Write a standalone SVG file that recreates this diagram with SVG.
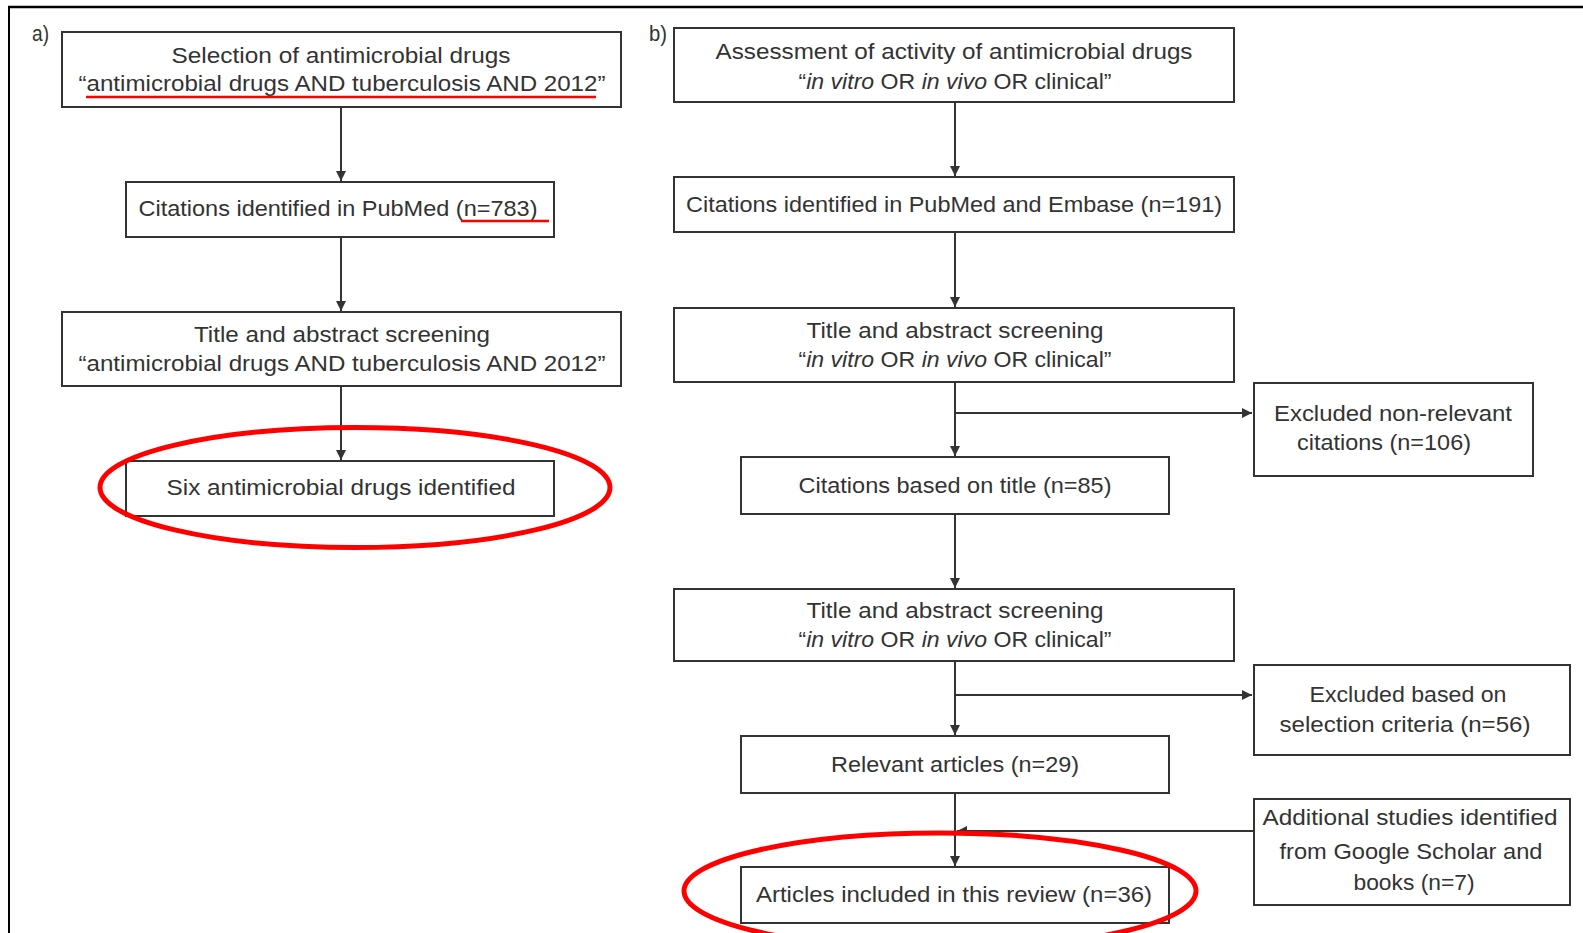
<svg xmlns="http://www.w3.org/2000/svg" width="1583" height="933" viewBox="0 0 1583 933">
<style>
.box{fill:#fff;stroke:#333;stroke-width:2}
.t{font-family:"Liberation Sans",Arial,sans-serif;font-size:22px;fill:#333;text-anchor:middle}
.i{font-style:italic}
.c{stroke:#333;stroke-width:2;fill:none}
.red{fill:none;stroke:#f00;stroke-width:5}
.ul{stroke:#f00;stroke-width:2.5}
.lbl{font-family:"Liberation Sans",Arial,sans-serif;font-size:22px;fill:#333}
</style>
<defs>
<marker id="ah" markerWidth="10" markerHeight="10" refX="10" refY="5" orient="auto" markerUnits="userSpaceOnUse">
<path d="M0,0 L10,5 L0,10 z" fill="#333"/>
</marker>
</defs>
<rect x="0" y="0" width="1583" height="933" fill="#fff"/>
<line x1="8" y1="7" x2="1583" y2="7" stroke="#000" stroke-width="2.5"/>
<line x1="9" y1="6" x2="9" y2="933" stroke="#000" stroke-width="2"/>

<text class="lbl" x="32" y="41" textLength="17" lengthAdjust="spacingAndGlyphs">a)</text>
<text class="lbl" x="649" y="41" textLength="18" lengthAdjust="spacingAndGlyphs">b)</text>

<g id="connectors">
<line class="c" x1="341" y1="107" x2="341" y2="181" marker-end="url(#ah)"/>
<line class="c" x1="341" y1="237" x2="341" y2="311" marker-end="url(#ah)"/>
<line class="c" x1="341" y1="386" x2="341" y2="460" marker-end="url(#ah)"/>
<line class="c" x1="955" y1="102" x2="955" y2="176" marker-end="url(#ah)"/>
<line class="c" x1="955" y1="232" x2="955" y2="307" marker-end="url(#ah)"/>
<line class="c" x1="955" y1="382" x2="955" y2="456" marker-end="url(#ah)"/>
<line class="c" x1="955" y1="413" x2="1252" y2="413" marker-end="url(#ah)"/>
<line class="c" x1="955" y1="514" x2="955" y2="588" marker-end="url(#ah)"/>
<line class="c" x1="955" y1="661" x2="955" y2="735" marker-end="url(#ah)"/>
<line class="c" x1="955" y1="695" x2="1252" y2="695" marker-end="url(#ah)"/>
<line class="c" x1="955" y1="793" x2="955" y2="866" marker-end="url(#ah)"/>
<line class="c" x1="1254" y1="831" x2="957" y2="831" marker-end="url(#ah)"/>
</g>

<g id="a1">
<rect class="box" x="62" y="32" width="559" height="75"/>
<text class="t" x="341" y="63" textLength="339" lengthAdjust="spacingAndGlyphs">Selection of antimicrobial drugs</text>
<text class="t" x="342" y="91" textLength="527" lengthAdjust="spacingAndGlyphs">“antimicrobial drugs AND tuberculosis AND 2012”</text>
<line class="ul" x1="86" y1="97" x2="596" y2="97"/>
</g>
<g id="a2">
<rect class="box" x="126" y="182" width="428" height="55"/>
<text class="t" x="338" y="216" textLength="399" lengthAdjust="spacingAndGlyphs">Citations identified in PubMed (n=783)</text>
<line class="ul" x1="461" y1="221" x2="549" y2="221"/>
</g>
<g id="a3">
<rect class="box" x="62" y="312" width="559" height="74"/>
<text class="t" x="342" y="342" textLength="296" lengthAdjust="spacingAndGlyphs">Title and abstract screening</text>
<text class="t" x="342" y="371" textLength="527" lengthAdjust="spacingAndGlyphs">“antimicrobial drugs AND tuberculosis AND 2012”</text>
</g>
<g id="a4">
<rect class="box" x="126" y="461" width="428" height="55"/>
<text class="t" x="341" y="495" textLength="349" lengthAdjust="spacingAndGlyphs">Six antimicrobial drugs identified</text>
</g>
<ellipse class="red" cx="355" cy="487.5" rx="255" ry="60"/>

<g id="b1">
<rect class="box" x="674" y="28" width="560" height="74"/>
<text class="t" x="954" y="59" textLength="477" lengthAdjust="spacingAndGlyphs">Assessment of activity of antimicrobial drugs</text>
<text class="t" x="955" y="88.5" textLength="313" lengthAdjust="spacingAndGlyphs">“<tspan class="i">in vitro</tspan> OR <tspan class="i">in vivo</tspan> OR clinical”</text>
</g>
<g id="b2">
<rect class="box" x="674" y="177" width="560" height="55"/>
<text class="t" x="954" y="211.5" textLength="536" lengthAdjust="spacingAndGlyphs">Citations identified in PubMed and Embase (n=191)</text>
</g>
<g id="b3">
<rect class="box" x="674" y="308" width="560" height="74"/>
<text class="t" x="955" y="337.5" textLength="297" lengthAdjust="spacingAndGlyphs">Title and abstract screening</text>
<text class="t" x="955" y="367" textLength="313" lengthAdjust="spacingAndGlyphs">“<tspan class="i">in vitro</tspan> OR <tspan class="i">in vivo</tspan> OR clinical”</text>
</g>
<g id="b4">
<rect class="box" x="1254" y="383" width="279" height="93"/>
<text class="t" x="1393" y="420.5" textLength="238" lengthAdjust="spacingAndGlyphs">Excluded non-relevant</text>
<text class="t" x="1384" y="449.5" textLength="174" lengthAdjust="spacingAndGlyphs">citations (n=106)</text>
</g>
<g id="b5">
<rect class="box" x="741" y="457" width="428" height="57"/>
<text class="t" x="955" y="493" textLength="313" lengthAdjust="spacingAndGlyphs">Citations based on title (n=85)</text>
</g>
<g id="b6">
<rect class="box" x="674" y="589" width="560" height="72"/>
<text class="t" x="955" y="617.5" textLength="297" lengthAdjust="spacingAndGlyphs">Title and abstract screening</text>
<text class="t" x="955" y="646.5" textLength="313" lengthAdjust="spacingAndGlyphs">“<tspan class="i">in vitro</tspan> OR <tspan class="i">in vivo</tspan> OR clinical”</text>
</g>
<g id="b7">
<rect class="box" x="1254" y="665" width="316" height="90"/>
<text class="t" x="1408" y="702" textLength="197" lengthAdjust="spacingAndGlyphs">Excluded based on</text>
<text class="t" x="1405" y="731.5" textLength="251" lengthAdjust="spacingAndGlyphs">selection criteria (n=56)</text>
</g>
<g id="b8">
<rect class="box" x="741" y="736" width="428" height="57"/>
<text class="t" x="955" y="772" textLength="248" lengthAdjust="spacingAndGlyphs">Relevant articles (n=29)</text>
</g>
<g id="b9">
<rect class="box" x="1254" y="799" width="316" height="106"/>
<text class="t" x="1410" y="825" textLength="295" lengthAdjust="spacingAndGlyphs">Additional studies identified</text>
<text class="t" x="1411" y="858.5" textLength="263" lengthAdjust="spacingAndGlyphs">from Google Scholar and</text>
<text class="t" x="1414" y="890" textLength="121" lengthAdjust="spacingAndGlyphs">books (n=7)</text>
</g>
<g id="b10">
<rect class="box" x="741" y="867" width="428" height="56"/>
<text class="t" x="954" y="902" textLength="396" lengthAdjust="spacingAndGlyphs">Articles included in this review (n=36)</text>
</g>
<ellipse class="red" cx="940" cy="891" rx="256" ry="58"/>
</svg>
